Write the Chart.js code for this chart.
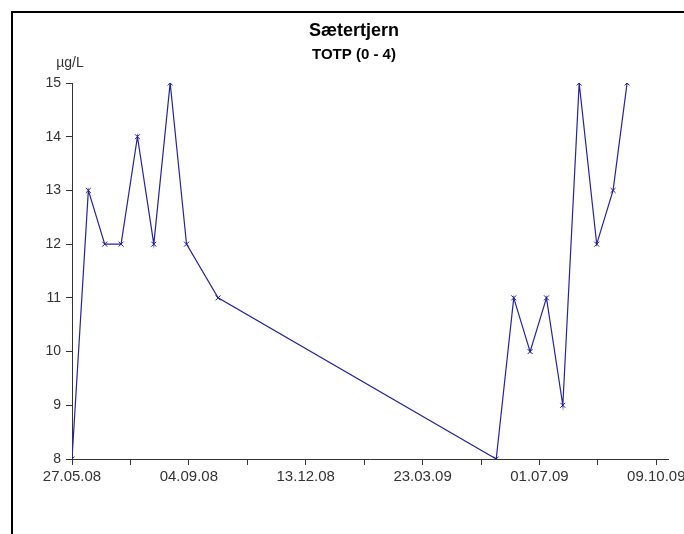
<!DOCTYPE html>
<html>
<head>
<meta charset="utf-8">
<script src="https://cdn.jsdelivr.net/npm/chart.js@4.4.1/dist/chart.umd.min.js"></script>
<style>
  html, body { margin: 0; padding: 0; background: #fff; overflow: hidden; width: 684px; height: 534px; }
  #frame { position: absolute; left: 11px; top: 11px; width: 690px; height: 540px; border: 2px solid #000; background: #fff; }
  #c { position: absolute; left: 1px; top: 1px; }
</style>
</head>
<body>
<div id="frame"><canvas id="c" width="680" height="520"></canvas></div>
<script>
// Sampling dates (dd.mm.yy) and total phosphorus, 0-4 m, µg/L
const sampleDates = [
  '27.05.08', '10.06.08', '24.06.08', '08.07.08', '22.07.08', '05.08.08',
  '19.08.08', '02.09.08', '29.09.08',
  '25.05.09', '09.06.09', '23.06.09', '07.07.09', '21.07.09', '04.08.09',
  '19.08.09', '02.09.09', '14.09.09'
];
const totpValues = [8, 13, 12, 12, 14, 12, 15, 12, 11, 8, 11, 10, 11, 9, 15, 12, 13, 15];

// Axis labels every 100 days from the first sample, with unlabelled ticks halfway
const xTickLabels = ['27.05.08', '04.09.08', '13.12.08', '23.03.09', '01.07.09', '09.10.09'];
const yTicks = [8, 9, 10, 11, 12, 13, 14, 15];

const titleText = 'Sætertjern';
const subtitleText = 'TOTP (0 - 4)';
const unitText = 'µg/L';

const DAY = 86400000;
function parseDay(s) {
  const [d, m, y] = s.split('.').map(Number);
  return Date.UTC(2000 + y, m - 1, d) / DAY;
}
const origin = parseDay(xTickLabels[0]);
const points = sampleDates.map((s, i) => ({ x: parseDay(s) - origin, y: totpValues[i] }));

const FONT = '"Liberation Sans", Arial, Helvetica, sans-serif';
const TEXT = '#333';
const AXIS = '#333';

const headings = {
  id: 'headings',
  afterDraw(chart) {
    const ctx = chart.ctx;
    const mid = chart.width / 2;
    ctx.save();
    ctx.fillStyle = '#000';
    ctx.textAlign = 'center';
    ctx.textBaseline = 'alphabetic';
    ctx.font = 'bold 18px ' + FONT;
    ctx.fillText(titleText, mid, 21.5);
    ctx.font = 'bold 15px ' + FONT;
    ctx.fillText(subtitleText, mid, 44.5);
    ctx.fillStyle = TEXT;
    ctx.font = '14px ' + FONT;
    ctx.fillText(unitText, chart.chartArea.left - 2, 52.5);
    ctx.restore();
  }
};

new Chart(document.getElementById('c'), {
  type: 'line',
  data: {
    datasets: [{
      data: points,
      borderColor: '#24249c',
      borderWidth: 1.2,
      pointStyle: 'crossRot',
      pointRadius: 3.5,
      pointBorderWidth: 1,
      pointBorderColor: '#1c1c94',
      fill: false,
      tension: 0
    }]
  },
  options: {
    responsive: false,
    animation: false,
    events: [],
    layout: { padding: { left: 0, right: 26, top: 69, bottom: 0 } },
    plugins: { legend: { display: false }, tooltip: { enabled: false }, title: { display: false } },
    scales: {
      x: {
        type: 'linear',
        min: 0,
        max: 510,
        afterBuildTicks(scale) {
          const ticks = [];
          for (let v = 0; v <= (xTickLabels.length - 1) * 100; v += 50) ticks.push({ value: v });
          scale.ticks = ticks;
        },
        afterFit(scale) { scale.height = 75; },
        ticks: {
          autoSkip: false,
          maxRotation: 0,
          padding: 3,
          color: TEXT,
          font: { family: FONT, size: 15 },
          callback: v => (v % 100 === 0 ? xTickLabels[v / 100] : '')
        },
        grid: { drawOnChartArea: false, drawTicks: true, tickLength: 6, color: AXIS },
        border: { display: true, color: AXIS, width: 1 }
      },
      y: {
        type: 'linear',
        min: yTicks[0],
        max: yTicks[yTicks.length - 1],
        afterFit(scale) { scale.width = 58; },
        afterBuildTicks(scale) { scale.ticks = yTicks.map(v => ({ value: v })); },
        ticks: {
          padding: 5,
          color: TEXT,
          font: { family: FONT, size: 14 }
        },
        grid: { drawOnChartArea: false, drawTicks: true, tickLength: 6, color: AXIS },
        border: { display: true, color: AXIS, width: 1 }
      }
    }
  },
  plugins: [headings]
});
</script>
</body>
</html>
